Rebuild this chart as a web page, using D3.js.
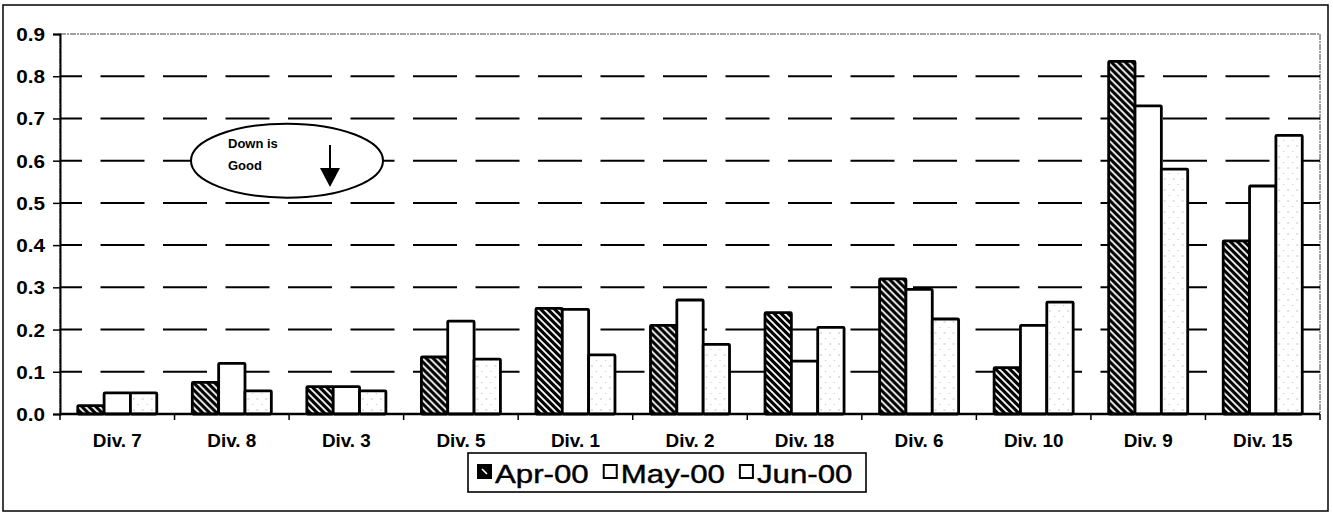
<!DOCTYPE html>
<html>
<head>
<meta charset="utf-8">
<script src="https://cdn.jsdelivr.net/npm/d3@7"></script>
<style>
  body { margin: 0; background: #fff; }
  svg { display: block; font-family: Arial, "Liberation Sans", sans-serif; }
</style>
</head>
<body>
<svg class="chart" width="1333" height="514"></svg>
<script>
// values
var categories = ["Div. 7", "Div. 8", "Div. 3", "Div. 5", "Div. 1", "Div. 2", "Div. 18", "Div. 6", "Div. 10", "Div. 9", "Div. 15"];
var seriesNames = ["Apr-00", "May-00", "Jun-00"];
var apr = [0.02, 0.075, 0.065, 0.135, 0.25, 0.21, 0.24, 0.32, 0.11, 0.835, 0.41];
var may = [0.05, 0.12, 0.065, 0.22, 0.248, 0.27, 0.125, 0.295, 0.21, 0.73, 0.54];
var jun = [0.05, 0.055, 0.055, 0.13, 0.14, 0.165, 0.205, 0.225, 0.265, 0.58, 0.66];
var yTicks = [0, 0.1, 0.2, 0.3, 0.4, 0.5, 0.6, 0.7, 0.8, 0.9];

var svg = d3.select("svg.chart");
var plotLeft = 60, plotRight = 1320, plotTop = 34, plotBottom = 414;
var stretch = 1.15; // the scan is a bit wider than it is tall

var x = d3.scaleBand().domain(categories).range([plotLeft, plotRight]).paddingInner(0.31).paddingOuter(0.155);
var xs = d3.scaleBand().domain(seriesNames).range([0, x.bandwidth()]);
var y = d3.scaleLinear().domain([0, 0.9]).range([plotBottom, plotTop]);

var rows = categories.map(function(c, i) {
  return { cat: c, vals: [apr[i], may[i], jun[i]] };
});

// fill patterns
var defs = svg.append("defs");
var hatch = defs.append("pattern").attr("id", "hatch")
  .attr("patternUnits", "userSpaceOnUse").attr("width", 7).attr("height", 7);
hatch.append("rect").attr("width", 7).attr("height", 7).attr("fill", "#000");
hatch.append("path").attr("d", "M-1,-1L8,8M-1,6L1,8M6,-1L8,1")
  .attr("stroke", "#fff").attr("stroke-width", 1.8);

var dots = defs.append("pattern").attr("id", "dots")
  .attr("patternUnits", "userSpaceOnUse").attr("width", 9).attr("height", 11);
dots.append("rect").attr("width", 9).attr("height", 11).attr("fill", "#fff");
dots.append("circle").attr("cx", 2).attr("cy", 3).attr("r", 0.7).attr("fill", "#aaa");
dots.append("circle").attr("cx", 6.5).attr("cy", 8.5).attr("r", 0.6).attr("fill", "#bbb");

var fills = ["url(#hatch)", "#fff", "url(#dots)"];

// outer frame
svg.append("rect").attr("x", 3).attr("y", 5).attr("width", 1325).attr("height", 506)
  .attr("fill", "none").attr("stroke", "#111").attr("stroke-width", 1.6);

// plot area border
svg.append("rect").attr("x", plotLeft).attr("y", plotTop).attr("width", plotRight - plotLeft).attr("height", plotBottom - plotTop)
  .attr("fill", "none").attr("stroke", "#444").attr("stroke-width", 1).attr("stroke-dasharray", "6,1,2,1");

// gridlines
svg.append("g").attr("class", "grid")
  .selectAll("line")
  .data(yTicks.filter(function(d) { return d > 0 && d < 0.9; }))
  .enter().append("line")
  .attr("x1", plotLeft).attr("x2", plotRight)
  .attr("y1", function(d) { return y(d); })
  .attr("y2", function(d) { return y(d); })
  .attr("stroke", "#000").attr("stroke-width", 2)
  .attr("stroke-dasharray", "44,18.5").attr("stroke-dashoffset", 22);

// annotation
var ann = svg.append("g").attr("class", "note");
ann.append("ellipse").attr("cx", 287).attr("cy", y(0.6)).attr("rx", 96).attr("ry", 37)
  .attr("fill", "#fff").attr("stroke", "#000").attr("stroke-width", 2);
ann.append("text").attr("x", 228).attr("y", 148).attr("font-size", 13).attr("font-weight", "bold").text("Down is");
ann.append("text").attr("x", 228).attr("y", 170).attr("font-size", 13).attr("font-weight", "bold").text("Good");
ann.append("line").attr("x1", 330).attr("x2", 330).attr("y1", 145).attr("y2", 172)
  .attr("stroke", "#000").attr("stroke-width", 2);
ann.append("path").attr("d", "M320,168L340,168L330,187Z").attr("fill", "#000");

// bars
var groups = svg.append("g").attr("class", "bars")
  .selectAll("g")
  .data(rows)
  .enter().append("g")
  .attr("transform", function(d) { return "translate(" + x(d.cat) + ",0)"; });

groups.selectAll("rect")
  .data(function(d) { return d.vals; })
  .enter().append("rect")
  .attr("x", function(d, i) { return xs(seriesNames[i]); })
  .attr("width", xs.bandwidth())
  .attr("y", function(d) { return y(d); })
  .attr("height", function(d) { return plotBottom - y(d); })
  .attr("rx", 1)
  .attr("fill", function(d, i) { return fills[i]; })
  .attr("stroke", "#000").attr("stroke-width", 2.8);

// y axis
var yAxis = svg.append("g").attr("transform", "translate(" + plotLeft + ",0)")
  .call(d3.axisLeft(y).tickValues(yTicks).tickFormat(d3.format(".1f")).tickSize(7).tickPadding(0));
yAxis.select(".domain").attr("stroke", "#000").attr("stroke-width", 2);
yAxis.selectAll(".tick line").attr("stroke", "#000").attr("stroke-width", 1.5);
yAxis.selectAll(".tick text")
  .attr("x", -15 / stretch).attr("dy", "0.36em")
  .attr("transform", "scale(" + stretch + ",1)")
  .attr("font-size", 18).attr("font-weight", "bold").attr("fill", "#000")
  .attr("font-family", "Arial, 'Liberation Sans', sans-serif");

// x axis: baseline, boundary ticks, labels
svg.append("line").attr("x1", plotLeft).attr("x2", plotRight).attr("y1", plotBottom).attr("y2", plotBottom)
  .attr("stroke", "#000").attr("stroke-width", 2.5);
svg.append("g").selectAll("line")
  .data(d3.range(categories.length + 1))
  .enter().append("line")
  .attr("x1", function(i) { return plotLeft + i * x.step(); })
  .attr("x2", function(i) { return plotLeft + i * x.step(); })
  .attr("y1", plotBottom).attr("y2", plotBottom + 6)
  .attr("stroke", "#000").attr("stroke-width", 1.5);

var xAxis = svg.append("g").attr("transform", "translate(0," + plotBottom + ")")
  .call(d3.axisBottom(x).tickSize(0).tickPadding(0));
xAxis.select(".domain").remove();
xAxis.selectAll(".tick text")
  .attr("y", 33).attr("dy", 0)
  .attr("transform", "scale(1.05,1)")
  .attr("font-size", 18).attr("font-weight", "bold").attr("fill", "#000")
  .attr("font-family", "Arial, 'Liberation Sans', sans-serif");

// legend
var legend = svg.append("g").attr("class", "legend");
legend.append("rect").attr("x", 468).attr("y", 453).attr("width", 398).attr("height", 39)
  .attr("fill", "#fff").attr("stroke", "#000").attr("stroke-width", 1.6);
var lx = 478;
seriesNames.forEach(function(name, i) {
  legend.append("rect").attr("x", lx).attr("y", 465).attr("width", 13).attr("height", 13)
    .attr("fill", i === 0 ? "#000" : "#fff").attr("stroke", "#000").attr("stroke-width", 2);
  if (i === 0) {
    legend.append("line").attr("x1", lx + 4).attr("y1", 469).attr("x2", lx + 9).attr("y2", 474)
      .attr("stroke", "#fff").attr("stroke-width", 1.6);
  }
  var t = legend.append("text").attr("x", 0).attr("y", 483)
    .attr("font-size", 25).attr("fill", "#000").attr("stroke", "#000").attr("stroke-width", 0.4)
    .attr("transform", "translate(" + (lx + 17) + ",0) scale(1.25,1)")
    .text(name);
  lx += 17 + t.node().getComputedTextLength() * 1.25 + 15;
});
</script>
</body>
</html>
